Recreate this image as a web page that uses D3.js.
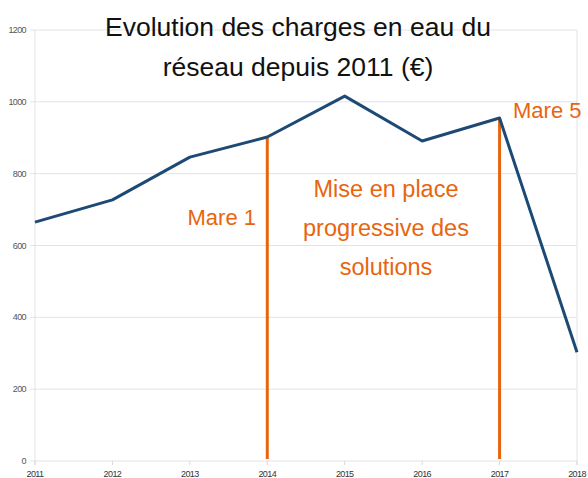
<!DOCTYPE html>
<html>
<head>
<meta charset="utf-8">
<script src="https://cdn.jsdelivr.net/npm/d3@7"></script>
<style>
  body { margin: 0; background: #fff; }
  svg text { font-family: "Liberation Sans", Arial, sans-serif; }
</style>
</head>
<body>
<div id="chart"></div>
<script>
var years = [2011, 2012, 2013, 2014, 2015, 2016, 2017, 2018];
var charges = [665, 727, 846, 902, 1016, 891, 955, 303];
var yTicks = [0, 200, 400, 600, 800, 1000, 1200];
var markerYears = [2014, 2017];
var titleLines = ['Evolution des charges en eau du', 'réseau depuis 2011 (€)'];
var noteLines = ['Mise en place', 'progressive des', 'solutions'];

var svgWidth = 588;
var svgHeight = 478;
var orange = '#e8650f';

function createSvg(parent, height, width) {
    return d3.select(parent)
             .append('svg')
             .attr('height', height)
             .attr('width', width);
}

var svg = createSvg('#chart', svgHeight, svgWidth);

var x = d3.scaleLinear().domain([2011, 2018]).range([35, 577]);
var y = d3.scaleLinear().domain([0, 1200]).range([461, 30]);

// horizontal grid + left ticks
svg.selectAll('line.grid')
    .data(yTicks)
    .enter()
    .append('line')
    .attr('class', 'grid')
    .attr('x1', 30)
    .attr('x2', 577)
    .attr('y1', function(d) { return y(d); })
    .attr('y2', function(d) { return y(d); })
    .attr('stroke', '#e3e3e3')
    .attr('stroke-width', 1);

// left and right vertical lines
svg.selectAll('line.vgrid')
    .data([2011, 2018])
    .enter()
    .append('line')
    .attr('class', 'vgrid')
    .attr('x1', function(d) { return x(d); })
    .attr('x2', function(d) { return x(d); })
    .attr('y1', y(1200))
    .attr('y2', y(0) + 4)
    .attr('stroke', '#e3e3e3')
    .attr('stroke-width', 1);

// x ticks
svg.selectAll('line.xtick')
    .data(years)
    .enter()
    .append('line')
    .attr('class', 'xtick')
    .attr('x1', function(d) { return x(d); })
    .attr('x2', function(d) { return x(d); })
    .attr('y1', y(0))
    .attr('y2', y(0) + 4)
    .attr('stroke', '#d8d8d8');

svg.selectAll('text.ylab')
    .data(yTicks)
    .enter()
    .append('text')
    .attr('class', 'ylab')
    .attr('x', 26)
    .attr('y', function(d) { return y(d) + 3; })
    .attr('text-anchor', 'end')
    .attr('font-size', 9)
    .attr('letter-spacing', -0.6)
    .attr('fill', '#555')
    .text(function(d) { return d; });

svg.selectAll('text.xlab')
    .data(years)
    .enter()
    .append('text')
    .attr('class', 'xlab')
    .attr('x', function(d) { return x(d); })
    .attr('y', y(0) + 16)
    .attr('text-anchor', 'middle')
    .attr('font-size', 9)
    .attr('letter-spacing', -0.6)
    .attr('fill', '#333')
    .text(function(d) { return d; });

// orange marker lines
svg.selectAll('line.marker')
    .data(markerYears)
    .enter()
    .append('line')
    .attr('class', 'marker')
    .attr('x1', function(d) { return x(d); })
    .attr('x2', function(d) { return x(d); })
    .attr('y1', function(d) { return y(charges[years.indexOf(d)]) + 1; })
    .attr('y2', y(0) - 2)
    .attr('stroke', orange)
    .attr('stroke-width', 3);

// data line
var line = d3.line()
    .x(function(d, i) { return x(years[i]); })
    .y(function(d) { return y(d); });

svg.append('path')
    .datum(charges)
    .attr('d', line)
    .attr('fill', 'none')
    .attr('stroke', '#1d4a74')
    .attr('stroke-width', 3)
    .attr('stroke-linejoin', 'round');

// title
svg.selectAll('text.title')
    .data(titleLines)
    .enter()
    .append('text')
    .attr('class', 'title')
    .attr('x', 298)
    .attr('y', function(d, i) { return 36 + i * 40; })
    .attr('text-anchor', 'middle')
    .attr('font-size', 26.5)
    .attr('fill', '#111')
    .text(function(d) { return d; });

// annotations
svg.append('text')
    .attr('x', 256)
    .attr('y', 225)
    .attr('text-anchor', 'end')
    .attr('font-size', 22)
    .attr('fill', orange)
    .text('Mare 1');

svg.append('text')
    .attr('x', 513)
    .attr('y', 118)
    .attr('font-size', 22)
    .attr('fill', orange)
    .text('Mare 5');

svg.selectAll('text.note')
    .data(noteLines)
    .enter()
    .append('text')
    .attr('class', 'note')
    .attr('x', 386)
    .attr('y', function(d, i) { return 197 + i * 39; })
    .attr('text-anchor', 'middle')
    .attr('font-size', 23.5)
    .attr('fill', orange)
    .text(function(d) { return d; });
</script>
</body>
</html>
